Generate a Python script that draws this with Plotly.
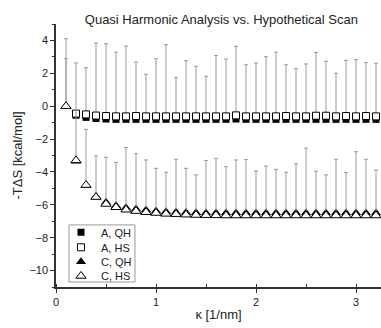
import plotly.graph_objects as go

# ---- data ----
kappa = [0.1, 0.2, 0.3, 0.4, 0.5, 0.6, 0.7, 0.8, 0.9, 1.0, 1.1, 1.2, 1.3, 1.4, 1.5, 1.6,
         1.7, 1.8, 1.9, 2.0, 2.1, 2.2, 2.3, 2.4, 2.5, 2.6, 2.7, 2.8, 2.9, 3.0, 3.1, 3.2]

a_qh = [None, -0.55, -0.68, -0.75, -0.78, -0.8, -0.8, -0.8, -0.8, -0.8, -0.8, -0.8, -0.8, -0.8, -0.8, -0.8,
        -0.8, -0.78, -0.8, -0.8, -0.8, -0.8, -0.8, -0.8, -0.8, -0.8, -0.8, -0.8, -0.8, -0.8, -0.8, -0.8]
a_hs = [None, -0.45, -0.5, -0.57, -0.6, -0.62, -0.62, -0.6, -0.62, -0.62, -0.62, -0.62, -0.62, -0.62, -0.62, -0.62,
        -0.62, -0.56, -0.62, -0.62, -0.62, -0.62, -0.6, -0.62, -0.62, -0.58, -0.58, -0.62, -0.6, -0.62, -0.6, -0.62]
a_hs_top = [None, -0.45, 2.34, 3.84, 3.80, 3.29, 3.66, 2.69, 1.94, 2.89, 3.74, 1.74, 2.77, 2.43, 1.82, 3.09,
            2.87, 3.64, 2.52, 2.63, 3.01, 3.29, 2.52, 2.28, 2.57, 3.27, 2.73, 2.00, 2.79, 2.83, 2.65, 2.61]

c_qh = [0.0, -3.35, -4.82, -5.5, -5.85, -6.05, -6.18, -6.25, -6.32, -6.38, -6.42, -6.45, -6.47, -6.48, -6.5, -6.5,
        -6.5, -6.5, -6.5, -6.5, -6.5, -6.5, -6.5, -6.5, -6.5, -6.5, -6.5, -6.5, -6.5, -6.5, -6.5, -6.5]
c_qh_top = [2.89] + [None] * 31
c_hs = [0.0, -3.3, -4.8, -5.53, -5.95, -6.15, -6.3, -6.38, -6.45, -6.5, -6.55, -6.57, -6.6, -6.62, -6.63, -6.64,
        -6.65, -6.65, -6.65, -6.65, -6.65, -6.65, -6.65, -6.65, -6.65, -6.65, -6.65, -6.65, -6.65, -6.65, -6.65, -6.65]
c_hs_top = [4.10, 2.63, -1.41, -3.03, -3.11, -3.42, -2.51, -2.89, -3.27, -3.78, -4.02, -3.23, -3.78, -4.18, -3.31, -3.17,
            -3.68, -3.27, -3.25, -3.94, -3.64, -3.84, -4.02, -3.50, -2.55, -3.96, -4.18, -3.23, -4.04, -2.77, -3.23, -3.88]

labels = ["A, QH", "A, HS", "C, QH", "C, HS"]

FONT = "Liberation Sans, Arial, sans-serif"
ERRC = "#9a9a9a"


def err(top, vals):
    plus = [None if (t is None or v is None) else t - v for t, v in zip(top, vals)]
    minus = [None if p is None else 0 for p in plus]
    return dict(type="data", symmetric=False, array=plus, arrayminus=minus,
                color=ERRC, thickness=1, width=2)


fig = go.Figure()
fig.add_trace(go.Scatter(x=kappa, y=a_qh, mode="markers", name=labels[0], legend="legend",
                         marker=dict(symbol="square", size=7, color="black", line=dict(width=0))))
fig.add_trace(go.Scatter(x=kappa, y=a_hs, mode="markers", name=labels[1], legend="legend2",
                         error_y=err(a_hs_top, a_hs),
                         marker=dict(symbol="square", size=7, color="white", line=dict(color="black", width=1))))
fig.add_trace(go.Scatter(x=kappa, y=c_qh, mode="markers", name=labels[2], legend="legend3",
                         error_y=err(c_qh_top, c_qh),
                         marker=dict(symbol="triangle-up", size=9, color="black", line=dict(width=0))))
fig.add_trace(go.Scatter(x=kappa, y=c_hs, mode="markers", name=labels[3], legend="legend4",
                         error_y=err(c_hs_top, c_hs),
                         marker=dict(symbol="triangle-up", size=9, color="white", line=dict(color="black", width=1))))

leg_common = dict(x=0.0154, xanchor="left", yanchor="middle", bgcolor="rgba(0,0,0,0)",
                  borderwidth=0, font=dict(family=FONT, size=11, color="#222"))

fig.update_layout(
    width=381, height=328,
    margin=dict(l=56, r=0, t=24, b=41),
    showlegend=True,
    paper_bgcolor="white", plot_bgcolor="white",
    font=dict(family=FONT, size=11, color="#222"),
    title=dict(text="Quasi Harmonic Analysis vs. Hypothetical Scan", x=0.581, xref="container",
               xanchor="center", y=1 - 19 / 328, yanchor="middle", yref="container",
               font=dict(family=FONT, size=13, color="#222")),
    legend=dict(y=0.208, **leg_common),
    legend2=dict(y=0.151, **leg_common),
    legend3=dict(y=0.096, **leg_common),
    legend4=dict(y=0.042, **leg_common),
    shapes=[dict(type="rect", xref="paper", yref="paper", x0=0.04, x1=0.243, y0=0.019, y1=0.236,
                 line=dict(color="#999", width=1), fillcolor="rgba(0,0,0,0)", layer="above")],
    annotations=[dict(text="-TΔS [kcal/mol]", xref="paper", yref="paper", x=-0.117, y=0.5,
                      xanchor="center", yanchor="middle", textangle=-90, showarrow=False,
                      font=dict(family=FONT, size=13, color="#222"))],
    xaxis=dict(range=[0, 3.25], showgrid=False, zeroline=False, showline=True, linecolor="#333",
               linewidth=1.5, ticks="outside", ticklen=4, tickcolor="#333", dtick=1, tick0=0,
               minor=dict(dtick=0.5, ticks="inside", ticklen=3, tickcolor="#333"),
               title=dict(text="κ [1/nm]", font=dict(family=FONT, size=13, color="#222"), standoff=3),
               tickfont=dict(family=FONT, size=11, color="#222")),
    yaxis=dict(range=[-11, 5], showgrid=False, zeroline=False, showline=True, linecolor="#333",
               linewidth=1.5, ticks="outside", ticklen=4, tickcolor="#333", dtick=2, tick0=0,
               minor=dict(dtick=1, ticks="outside", ticklen=2, tickcolor="#333"),
               tickfont=dict(family=FONT, size=11, color="#222")),
)

fig.write_html("out.html")
